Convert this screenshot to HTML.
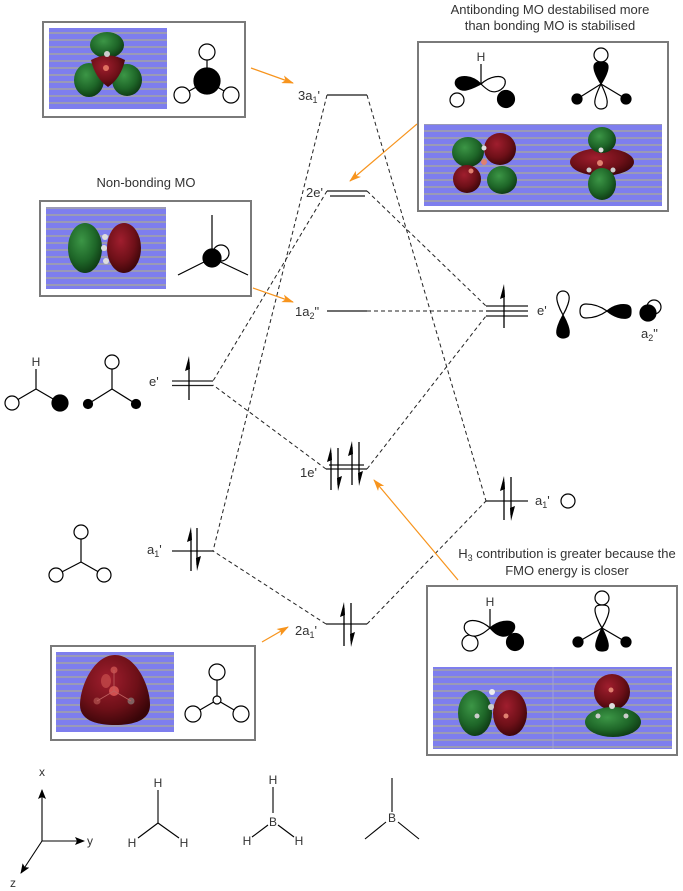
<!DOCTYPE html>
<html><head><meta charset="utf-8"><style>
html,body{margin:0;padding:0;background:#fff;}
svg{display:block;}
text{font-family:"Liberation Sans",Arial,sans-serif;fill:#333;}
</style></head><body>
<svg width="683" height="891" viewBox="0 0 683 891" xmlns="http://www.w3.org/2000/svg">
<defs>
<pattern id="bg" width="8" height="7" patternUnits="userSpaceOnUse">
<rect width="8" height="7" fill="#7e7eee"/>
<rect y="4" width="8" height="2" fill="#9a9ab6"/>
</pattern>
<radialGradient id="gr" cx="0.4" cy="0.35" r="0.7">
<stop offset="0" stop-color="#3c9646"/>
<stop offset="0.6" stop-color="#1e6628"/>
<stop offset="1" stop-color="#0d3612"/>
</radialGradient>
<radialGradient id="rd" cx="0.4" cy="0.35" r="0.7">
<stop offset="0" stop-color="#a01e2e"/>
<stop offset="0.6" stop-color="#6e1018"/>
<stop offset="1" stop-color="#380508"/>
</radialGradient>
<marker id="oa" viewBox="0 0 12 8" refX="11" refY="4" markerWidth="12" markerHeight="8" markerUnits="userSpaceOnUse" orient="auto">
<path d="M0,0 L12,4 L0,8 L3,4 Z" fill="#f7941d"/>
</marker>
<marker id="ka" viewBox="0 0 10 8" refX="9" refY="4" markerWidth="10" markerHeight="8" markerUnits="userSpaceOnUse" orient="auto">
<path d="M0,0 L10,4 L0,8 L2,4 Z" fill="#000"/>
</marker>
</defs>

<!-- ===== Boxes ===== -->
<g fill="#fff" stroke="#7a7a7a" stroke-width="2">
<rect x="43" y="22" width="202" height="95"/>
<rect x="40" y="201" width="211" height="95"/>
<rect x="418" y="42" width="250" height="169"/>
<rect x="427" y="586" width="250" height="169"/>
<rect x="51" y="646" width="204" height="94"/>
</g>

<!-- blue image backgrounds -->
<g fill="url(#bg)">
<rect x="49" y="28" width="118" height="81"/>
<rect x="46" y="207" width="120" height="82"/>
<rect x="424" y="124" width="238" height="82"/>
<rect x="433" y="667" width="239" height="82"/>
<rect x="56" y="652" width="118" height="80"/>
</g>
<line x1="553" y1="667" x2="553" y2="749" stroke="#a0a0d8" stroke-width="1"/>

<!-- ===== MO blobs ===== -->
<ellipse cx="107" cy="45" rx="17" ry="13" fill="url(#gr)"/>
<ellipse cx="89" cy="80" rx="15" ry="17" fill="url(#gr)"/>
<ellipse cx="127" cy="80" rx="15" ry="16" fill="url(#gr)"/>
<path d="M91,60 Q108,51 125,60 Q121,78 108,87 Q95,78 91,60 Z" fill="url(#rd)"/>
<circle cx="107" cy="54" r="3" fill="#ccc"/>
<circle cx="106" cy="68" r="3" fill="#e07060"/>

<ellipse cx="85" cy="248" rx="17" ry="25" fill="url(#gr)"/>
<ellipse cx="124" cy="248" rx="17" ry="25" fill="url(#rd)"/>
<circle cx="105" cy="237" r="3" fill="#ddd"/>
<circle cx="104" cy="248" r="3" fill="#ddd"/>
<circle cx="106" cy="261" r="3" fill="#ddd"/>

<ellipse cx="468" cy="152" rx="16" ry="15" fill="url(#gr)"/>
<ellipse cx="500" cy="149" rx="16" ry="16" fill="url(#rd)"/>
<ellipse cx="467" cy="179" rx="14" ry="14" fill="url(#rd)"/>
<ellipse cx="502" cy="180" rx="15" ry="14" fill="url(#gr)"/>
<circle cx="484" cy="148" r="2.5" fill="#ddd"/>
<circle cx="484" cy="162" r="3" fill="#e08070"/>
<circle cx="471" cy="171" r="2.5" fill="#e08070"/>
<ellipse cx="602" cy="162" rx="32" ry="14" fill="url(#rd)"/>
<ellipse cx="602" cy="140" rx="14" ry="13" fill="url(#gr)"/>
<ellipse cx="602" cy="184" rx="14" ry="16" fill="url(#gr)"/>
<circle cx="601" cy="150" r="2.5" fill="#ddd"/>
<circle cx="600" cy="163" r="3" fill="#e08070"/>
<circle cx="589" cy="170" r="2.5" fill="#ccc"/>
<circle cx="613" cy="170" r="2.5" fill="#ccc"/>

<ellipse cx="475" cy="713" rx="17" ry="23" fill="url(#gr)"/>
<ellipse cx="510" cy="713" rx="17" ry="23" fill="url(#rd)"/>
<circle cx="492" cy="692" r="3" fill="#eee"/>
<circle cx="491" cy="707" r="3" fill="#ccc"/>
<circle cx="477" cy="716" r="2.5" fill="#ccc"/>
<circle cx="506" cy="716" r="2.5" fill="#e08070"/>
<ellipse cx="612" cy="692" rx="18" ry="18" fill="url(#rd)"/>
<ellipse cx="613" cy="722" rx="28" ry="15" fill="url(#gr)"/>
<circle cx="611" cy="690" r="2.5" fill="#e08070"/>
<circle cx="612" cy="706" r="3" fill="#ddd"/>
<circle cx="598" cy="716" r="2.5" fill="#ccc"/>
<circle cx="626" cy="716" r="2.5" fill="#ccc"/>

<path d="M115,655 C136,655 150,686 150,705 C150,722 130,725 115,725 C100,725 80,722 80,705 C80,686 94,655 115,655 Z" fill="url(#rd)"/>
<ellipse cx="106" cy="681" rx="5" ry="7" fill="#c04848" opacity="0.8"/>
<circle cx="114" cy="670" r="3.5" fill="#c04848"/>
<circle cx="114" cy="691" r="5" fill="#d05050"/>
<circle cx="97" cy="701" r="3.5" fill="#a04040"/>
<circle cx="131" cy="701" r="3.5" fill="#806060"/>
<g stroke="#c06060" stroke-width="0.8"><line x1="114" y1="691" x2="97" y2="701"/><line x1="114" y1="691" x2="131" y2="701"/><line x1="114" y1="691" x2="114" y2="670"/></g>

<!-- ===== Orbital cartoons ===== -->
<g stroke="#000" stroke-width="1.2">
<line x1="207" y1="81" x2="207" y2="52"/>
<line x1="207" y1="81" x2="182" y2="95"/>
<line x1="207" y1="81" x2="231" y2="95"/>
<circle cx="207" cy="52" r="8" fill="#fff"/>
<circle cx="182" cy="95" r="8" fill="#fff"/>
<circle cx="231" cy="95" r="8" fill="#fff"/>
<circle cx="207" cy="81" r="13" fill="#000"/>

<line x1="212" y1="215" x2="212" y2="258"/>
<line x1="212" y1="258" x2="178" y2="275"/>
<line x1="212" y1="258" x2="248" y2="275"/>
<circle cx="221" cy="253" r="8" fill="#fff"/>
<circle cx="212" cy="258" r="9" fill="#000"/>

<line x1="481" y1="64" x2="481" y2="84"/>
<circle cx="457" cy="100" r="7" fill="#fff"/>
<circle cx="506" cy="99" r="8.5" fill="#000"/>
<path d="M481,84 C472,75 460,75 456,80 C453,86 460,91 466,90 C472,89 477,86 481,84 Z" fill="#000"/>
<path d="M481,84 C490,76 502,74 505,80 C507,88 497,94 490,91 C486,89 483,86 481,84 Z" fill="#fff"/>
<line x1="601" y1="84" x2="577" y2="99"/>
<line x1="601" y1="84" x2="626" y2="99"/>
<circle cx="577" cy="99" r="5" fill="#000"/>
<circle cx="626" cy="99" r="5" fill="#000"/>
<circle cx="601" cy="55" r="7" fill="#fff"/>
<path d="M601,84 C596,76 594,70 594,67 C594,62 598,62 601,62 C604,62 608,62 608,67 C608,70 606,76 601,84 Z" fill="#000"/>
<path d="M601,84 C597,92 594,100 595,104 C596,108 599,109 601,109 C603,109 607,108 607,104 C608,100 605,92 601,84 Z" fill="#fff"/>

<line x1="490" y1="609" x2="490" y2="628"/>
<circle cx="470" cy="643" r="8" fill="#fff"/>
<circle cx="515" cy="642" r="8.5" fill="#000"/>
<path d="M490,628 C481,620 469,618 465,624 C462,631 469,637 476,636 C482,635 486,631 490,628 Z" fill="#fff"/>
<path d="M490,628 C498,621 510,619 514,624 C517,631 508,637 502,636 C496,635 493,631 490,628 Z" fill="#000"/>
<line x1="602" y1="628" x2="578" y2="642"/>
<line x1="602" y1="628" x2="626" y2="642"/>
<circle cx="578" cy="642" r="5" fill="#000"/>
<circle cx="626" cy="642" r="5" fill="#000"/>
<circle cx="602" cy="598" r="7" fill="#fff"/>
<path d="M602,628 C597,620 595,613 595,610 C595,605 599,605 602,605 C605,605 609,605 609,610 C609,613 607,620 602,628 Z" fill="#fff"/>
<path d="M602,628 C598,636 595,644 596,647 C597,651 600,651 602,651 C604,651 608,651 608,647 C609,644 606,636 602,628 Z" fill="#000"/>

<line x1="217" y1="700" x2="217" y2="672"/>
<line x1="217" y1="700" x2="193" y2="714"/>
<line x1="217" y1="700" x2="241" y2="714"/>
<circle cx="217" cy="672" r="8" fill="#fff"/>
<circle cx="193" cy="714" r="8" fill="#fff"/>
<circle cx="241" cy="714" r="8" fill="#fff"/>
<circle cx="217" cy="700" r="4" fill="#fff"/>

<line x1="36" y1="369" x2="36" y2="389"/>
<line x1="36" y1="389" x2="12" y2="403"/>
<line x1="36" y1="389" x2="60" y2="403"/>
<circle cx="12" cy="403" r="7" fill="#fff"/>
<circle cx="60" cy="403" r="8" fill="#000"/>

<line x1="112" y1="369" x2="112" y2="389"/>
<line x1="112" y1="389" x2="88" y2="404"/>
<line x1="112" y1="389" x2="136" y2="404"/>
<circle cx="112" cy="362" r="7" fill="#fff"/>
<circle cx="88" cy="404" r="4.5" fill="#000"/>
<circle cx="136" cy="404" r="4.5" fill="#000"/>

<line x1="81" y1="539" x2="81" y2="562"/>
<line x1="81" y1="562" x2="56" y2="575"/>
<line x1="81" y1="562" x2="104" y2="575"/>
<circle cx="81" cy="532" r="7" fill="#fff"/>
<circle cx="56" cy="575" r="7" fill="#fff"/>
<circle cx="104" cy="575" r="7" fill="#fff"/>

<path d="M563,315 C559,308 556,300 557,296 C558,292 561,291 563,291 C565,291 568,292 569,296 C570,300 567,308 563,315 Z" fill="#fff"/>
<path d="M563,315 C559,322 556,330 557,334 C558,337 561,338 563,338 C565,338 569,337 569,334 C570,330 567,322 563,315 Z" fill="#000"/>
<path d="M607,311 C600,306 592,304 586,304 C581,304 580,308 580,311 C580,314 581,318 586,318 C592,318 600,316 607,311 Z" fill="#fff"/>
<path d="M607,311 C614,305 622,304 627,305 C631,306 631,309 631,311 C631,314 631,317 627,318 C622,319 614,317 607,311 Z" fill="#000"/>
<circle cx="654" cy="307" r="7" fill="#fff"/>
<circle cx="648" cy="313" r="8" fill="#000"/>
<circle cx="568" cy="501" r="7" fill="#fff"/>
</g>

<!-- H labels on cartoons -->
<g font-size="12" text-anchor="middle">
<text x="36" y="366">H</text>
<text x="481" y="61">H</text>
<text x="490" y="606">H</text>
</g>

<!-- ===== energy levels ===== -->
<g stroke="#6e6e6e" stroke-width="2">
<line x1="327" y1="95" x2="367" y2="95"/>
<line x1="327" y1="191" x2="367" y2="191"/>
<line x1="330" y1="196" x2="365" y2="196"/>
<line x1="327" y1="311" x2="367" y2="311"/>
<line x1="329" y1="465" x2="364" y2="465"/>
<line x1="326" y1="469" x2="367" y2="469"/>
<line x1="326" y1="624" x2="367" y2="624"/>
<line x1="172" y1="551" x2="213" y2="551"/>
<line x1="486" y1="306" x2="528" y2="306"/>
<line x1="486" y1="311" x2="528" y2="311"/>
<line x1="486" y1="316" x2="528" y2="316"/>
<line x1="486" y1="501" x2="528" y2="501"/>
</g>
<g stroke="#222" stroke-width="1.2">
<line x1="172" y1="381" x2="213" y2="381"/>
<line x1="172" y1="385.5" x2="213" y2="385.5"/>
</g>

<!-- ===== dashed correlation lines ===== -->
<g stroke="#222" stroke-width="1" stroke-dasharray="4 3" fill="none">
<line x1="327" y1="95" x2="213" y2="551"/>
<line x1="367" y1="95" x2="486" y2="501"/>
<line x1="327" y1="191" x2="213" y2="381"/>
<line x1="367" y1="191" x2="486" y2="306"/>
<line x1="367" y1="311" x2="486" y2="311"/>
<line x1="326" y1="469" x2="213" y2="385"/>
<line x1="367" y1="469" x2="486" y2="316"/>
<line x1="326" y1="624" x2="213" y2="551"/>
<line x1="367" y1="624" x2="486" y2="501"/>
</g>

<!-- ===== electron arrows ===== -->
<g stroke="#000" stroke-width="1.3" fill="#000">
<line x1="189" y1="362" x2="189" y2="400"/><polygon points="189,356 185,371 190,369" stroke="none"/>
<line x1="191" y1="533" x2="191" y2="571"/><polygon points="191,527 187,542 192,540" stroke="none"/>
<line x1="197" y1="528" x2="197" y2="565"/><polygon points="197,571 201,556 196,558" stroke="none"/>
<line x1="504" y1="290" x2="504" y2="328"/><polygon points="504,284 500,299 505,297" stroke="none"/>
<line x1="504" y1="482" x2="504" y2="520"/><polygon points="504,476 500,491 505,489" stroke="none"/>
<line x1="511" y1="477" x2="511" y2="515"/><polygon points="511,521 515,506 510,508" stroke="none"/>
<line x1="331" y1="453" x2="331" y2="490"/><polygon points="331,447 327,462 332,460" stroke="none"/>
<line x1="338" y1="448" x2="338" y2="485"/><polygon points="338,491 342,476 337,478" stroke="none"/>
<line x1="352" y1="447" x2="352" y2="485"/><polygon points="352,441 348,456 353,454" stroke="none"/>
<line x1="359" y1="442" x2="359" y2="480"/><polygon points="359,486 363,471 358,473" stroke="none"/>
<line x1="344" y1="608" x2="344" y2="646"/><polygon points="344,602 340,617 345,615" stroke="none"/>
<line x1="351" y1="603" x2="351" y2="641"/><polygon points="351,647 355,632 350,634" stroke="none"/>
</g>

<!-- ===== orange arrows ===== -->
<g stroke="#f7941d" stroke-width="1.2" fill="none">
<line x1="251" y1="68" x2="293" y2="83" marker-end="url(#oa)"/>
<line x1="417" y1="124" x2="350" y2="181" marker-end="url(#oa)"/>
<line x1="253" y1="288" x2="293" y2="302" marker-end="url(#oa)"/>
<line x1="458" y1="580" x2="374" y2="480" marker-end="url(#oa)"/>
<line x1="262" y1="642" x2="288" y2="627" marker-end="url(#oa)"/>
</g>

<!-- ===== level labels ===== -->
<g font-size="13">
<text x="298" y="100">3a<tspan font-size="9" dy="3">1</tspan><tspan dy="-3">'</tspan></text>
<text x="306" y="197">2e'</text>
<text x="295" y="316">1a<tspan font-size="9" dy="3">2</tspan><tspan dy="-3">"</tspan></text>
<text x="300" y="477">1e'</text>
<text x="295" y="635">2a<tspan font-size="9" dy="3">1</tspan><tspan dy="-3">'</tspan></text>
<text x="149" y="386">e'</text>
<text x="147" y="554">a<tspan font-size="9" dy="3">1</tspan><tspan dy="-3">'</tspan></text>
<text x="537" y="315">e'</text>
<text x="535" y="505">a<tspan font-size="9" dy="3">1</tspan><tspan dy="-3">'</tspan></text>
<text x="641" y="338">a<tspan font-size="9" dy="3">2</tspan><tspan dy="-3">"</tspan></text>
</g>

<!-- ===== annotations ===== -->
<g font-size="13" text-anchor="middle">
<text x="146" y="187">Non-bonding MO</text>
<text x="550" y="14">Antibonding MO destabilised more</text>
<text x="550" y="30">than bonding MO is stabilised</text>
<text x="567" y="558">H<tspan font-size="9" dy="3">3</tspan><tspan dy="-3"> contribution is greater because the</tspan></text>
<text x="567" y="575">FMO energy is closer</text>
</g>

<!-- ===== bottom structures ===== -->
<g stroke="#000" stroke-width="1.1">
<line x1="42" y1="841" x2="42" y2="790" marker-end="url(#ka)"/>
<line x1="42" y1="841" x2="84" y2="841" marker-end="url(#ka)"/>
<line x1="42" y1="841" x2="21" y2="873" marker-end="url(#ka)"/>

<line x1="158" y1="790" x2="158" y2="823"/>
<line x1="158" y1="823" x2="138" y2="838"/>
<line x1="158" y1="823" x2="179" y2="838"/>

<line x1="273" y1="787" x2="273" y2="813"/>
<line x1="268" y1="825" x2="252" y2="837"/>
<line x1="278" y1="825" x2="294" y2="837"/>

<line x1="392" y1="778" x2="392" y2="812"/>
<line x1="386" y1="822" x2="365" y2="839"/>
<line x1="398" y1="822" x2="419" y2="839"/>
</g>
<g font-size="12" text-anchor="middle">
<text x="42" y="776">x</text>
<text x="90" y="845">y</text>
<text x="13" y="887">z</text>
<text x="158" y="787">H</text>
<text x="132" y="847">H</text>
<text x="184" y="847">H</text>
<text x="273" y="784">H</text>
<text x="273" y="826">B</text>
<text x="247" y="845">H</text>
<text x="299" y="845">H</text>
<text x="392" y="822">B</text>
</g>
</svg>
</body></html>
